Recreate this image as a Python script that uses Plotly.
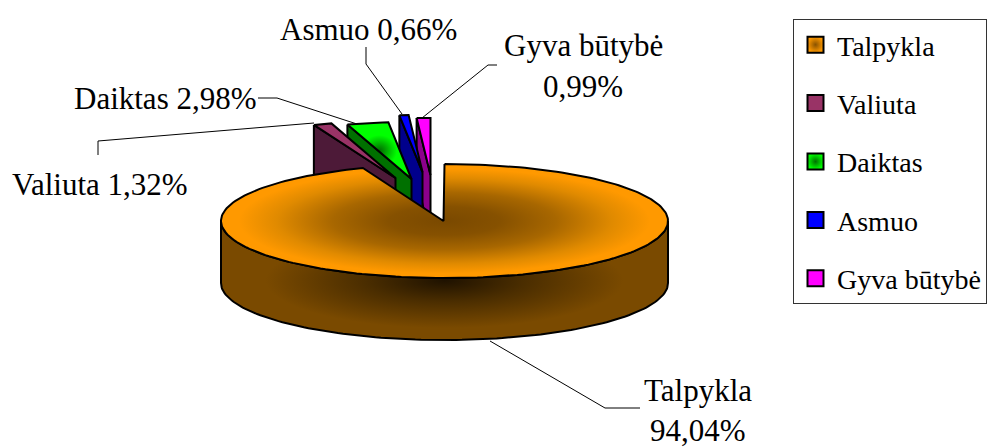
import math
import plotly.graph_objects as go

categories = ["Talpykla", "Valiuta", "Daiktas", "Asmuo", "Gyva būtybė"]
values = [94.04, 1.32, 2.98, 0.66, 0.99]

# Layout constants (pixel-like axes; the page adds an 8 px body margin)
CX, CY, RX, RY, H = 444.5, 221, 223.5, 57, 62
explode = {"Valiuta": (-49, -43), "Daiktas": (-33, -42), "Asmuo": (-22, -49), "Gyva būtybė": (-14, -46)}
top_cols = {"Valiuta": "#993366", "Daiktas": "#00ff00", "Asmuo": "#0000ff", "Gyva būtybė": "#ff00ff"}
wall_cols = {"Valiuta": "#4d1a38", "Daiktas": "#007000", "Asmuo": "#00008c", "Gyva būtybė": "#8c008c"}
swatch = {"Talpykla": "#ff9900", "Valiuta": "#993366", "Daiktas": "#00ff00", "Asmuo": "#0000ff", "Gyva būtybė": "#ff00ff"}

total = sum(values)
spans = {}
a = 0.0
for c, v in zip(categories, values):
    spans[c] = (a, a + v / total * 360)
    a += v / total * 360


def rim(deg, dx=0.0, dy=0.0):
    t = math.radians(deg)
    return CX + RX * math.sin(t) + dx, CY - RY * math.cos(t) + dy


def arc(a0, a1, dx=0.0, dy=0.0, drop=0.0):
    n = max(2, int(abs(a1 - a0) / 1.5) + 1)
    pts = [rim(a0 + (a1 - a0) * i / (n - 1), dx, dy + drop) for i in range(n)]
    return [p[0] for p in pts], [p[1] for p in pts]


fig = go.Figure()


def poly(xs, ys, color=None, grad=None, lw=2):
    kw = {"fillgradient": grad} if grad else {"fillcolor": color}
    fig.add_trace(go.Scatter(x=xs + xs[:1], y=ys + ys[:1], mode="lines", fill="toself",
                             line=dict(color="black", width=lw), showlegend=False,
                             hoverinfo="skip", **kw))


leaders = [
    ([490, 605, 640], [341, 408, 408]),
    ([314, 98, 98], [123, 141, 155]),
    ([258, 277, 360], [98, 98, 125]),
    ([366, 366, 402], [47, 64, 114]),
    ([497, 488, 422], [65, 65, 118]),
]
for lx, ly in leaders:
    fig.add_trace(go.Scatter(x=lx, y=ly, mode="lines", line=dict(color="black", width=1),
                             showlegend=False, hoverinfo="skip"))

# Exploded slices, back to front
for c in ["Gyva būtybė", "Asmuo", "Daiktas", "Valiuta"]:
    a0, a1 = spans[c]
    dx, dy = explode[c]
    lx, ly = rim(a0, dx, dy)
    ax, ay = CX + dx, CY + dy
    poly([lx, ax, ax, lx], [ly, ay, ay + H, ly + H], wall_cols[c])
    xs, ys = arc(a0, a1, dx, dy)
    grad = None
    if c == "Daiktas":
        grad = dict(type="radial", colorscale=[[0, "#006a00"], [0.55, "#00ff00"], [1, "#00ff00"]])
    poly(xs + [ax], ys + [ay], top_cols[c], grad)

# Main slice: front wall then top
xs, ys = arc(90, 270)
xb, yb = arc(270, 90, drop=H)
poly(xs + xb, ys + yb, grad=dict(type="radial", colorscale=[[0, "#1f1200"], [0.35, "#4a2d00"], [0.8, "#7a4a00"], [1, "#7a4a00"]]))
xs, ys = arc(*spans["Talpykla"])
poly(xs + [CX - 1], ys + [CY], grad=dict(type="radial", colorscale=[[0, "#7a4900"], [0.25, "#865100"], [0.5, "#a86700"], [0.75, "#e08a00"], [0.92, "#ff9900"], [1, "#ff9900"]]))

# Legend entries
for c in categories:
    marker = dict(symbol="square", size=16, color=swatch[c], line=dict(color="black", width=2))
    if c in ("Talpykla", "Daiktas"):
        marker["gradient"] = dict(type="radial", color={"Talpykla": "#8a5300", "Daiktas": "#007000"}[c])
    fig.add_trace(go.Scatter(x=[None], y=[None], mode="markers", name=c, legendgroup=c, marker=marker))


def pct(v):
    return f"{v:.2f}%".replace(".", ",")


label_lines = [
    (698, 390, "Talpykla"), (698, 430, pct(values[0])),
    (100, 184, f"Valiuta {pct(values[1])}"),
    (165, 98, f"Daiktas {pct(values[2])}"),
    (368, 29, f"Asmuo {pct(values[3])}"),
    (583, 45, "Gyva būtybė"), (583, 86, pct(values[4])),
]
W, HT, M = 998, 447, 8
fig.update_layout(
    width=W - M, height=HT - M, margin=dict(l=0, r=0, t=0, b=0),
    paper_bgcolor="white", plot_bgcolor="white",
    font=dict(family="Liberation Serif", size=28, color="black"),
    xaxis=dict(range=[M, W], visible=False, fixedrange=True),
    yaxis=dict(range=[HT, M], visible=False, fixedrange=True),
    showlegend=True,
    legend=dict(x=(793 - M) / (W - M), y=1 - (19 - M) / (HT - M), xanchor="left", yanchor="top",
                bordercolor="#333333", borderwidth=1, traceorder="grouped", tracegroupgap=19,
                itemwidth=33, bgcolor="white", font=dict(family="Liberation Serif", size=28)),
    annotations=[dict(x=x, y=y, xref="x", yref="y", text=t, showarrow=False,
                      font=dict(family="Liberation Serif", size=31)) for x, y, t in label_lines],
)
fig.write_html("out.html")
